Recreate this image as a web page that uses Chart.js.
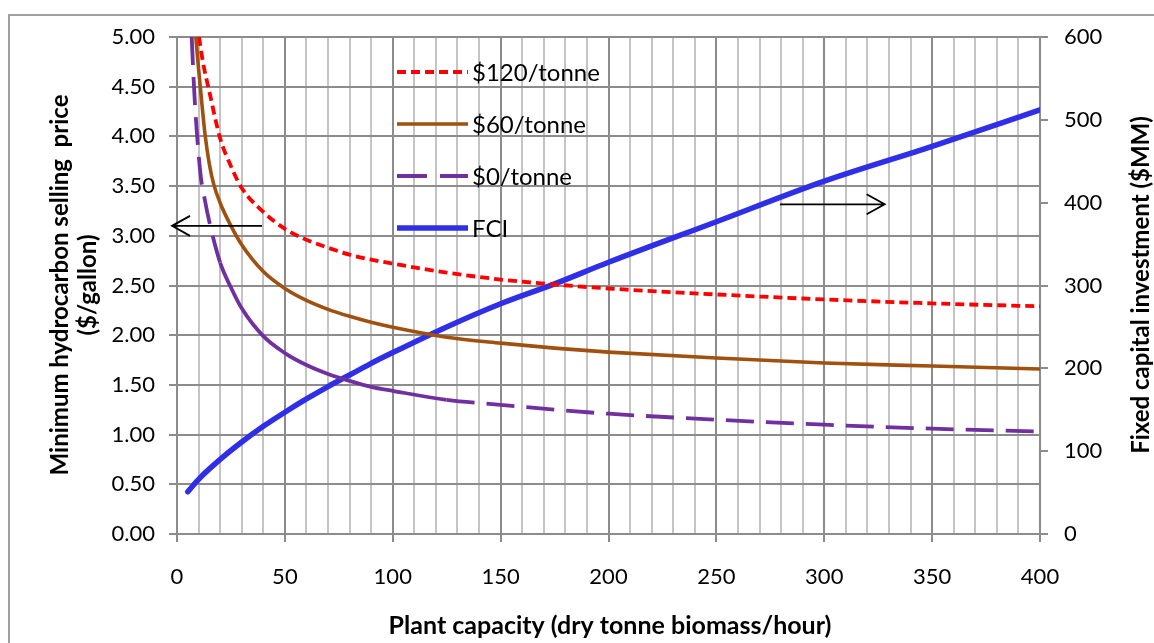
<!DOCTYPE html>
<html>
<head>
<meta charset="utf-8">
<script src="https://cdn.jsdelivr.net/npm/chart.js@4.4.1/dist/chart.umd.min.js"></script>
<style>
  html, body { margin: 0; padding: 0; background: #ffffff; }
  #wrap { position: relative; width: 1154px; height: 643px; }
  canvas { display: block; }
</style>
</head>
<body>
<div id="wrap"><canvas id="chart" width="1154" height="643"></canvas></div>
<script>
// Plant capacity (dry tonne biomass / hour) and minimum selling price ($/gallon)
const capacity120 = [10.2, 12, 15, 20, 25, 30, 40, 50, 60, 70, 80, 90, 100, 125, 150, 175, 200, 250, 300, 350, 400];
const price120    = [5.00, 4.75, 4.45, 3.98, 3.70, 3.48, 3.24, 3.07, 2.96, 2.88, 2.81, 2.76, 2.72, 2.63, 2.56, 2.51, 2.47, 2.41, 2.36, 2.32, 2.29];

const capacity60  = [8.7, 10, 11, 13, 15, 17, 20, 25, 30, 40, 50, 60, 70, 80, 90, 100, 125, 150, 175, 200, 250, 300, 350, 400];
const price60     = [5.00, 4.68, 4.45, 4.02, 3.72, 3.52, 3.33, 3.10, 2.91, 2.64, 2.47, 2.35, 2.26, 2.19, 2.13, 2.08, 1.98, 1.92, 1.87, 1.83, 1.77, 1.72, 1.69, 1.66];

const capacity0   = [6.8, 8, 9, 11, 13, 15, 20, 25, 30, 40, 50, 60, 70, 80, 90, 100, 125, 150, 175, 200, 250, 300, 350, 400];
const price0      = [5.00, 4.45, 4.10, 3.60, 3.35, 3.14, 2.73, 2.48, 2.27, 1.99, 1.82, 1.70, 1.61, 1.54, 1.48, 1.44, 1.35, 1.30, 1.25, 1.21, 1.15, 1.10, 1.06, 1.03];

// Fixed capital investment ($MM)
const capacityFCI = [5, 10, 20, 30, 40, 50, 60, 70, 80, 90, 100, 125, 150, 175, 200, 250, 300, 350, 400];
const fci         = [51, 66, 90, 111, 130, 147, 163, 178, 192, 206, 219, 250, 278, 302, 328, 377, 426, 468, 512];

const seriesNames = ['$120/tonne', '$60/tonne', '$0/tonne', 'FCI'];

// Arrows pointing to the axis each group of curves is read against: [x0, y0, x1, y1, axis]
const arrowLeft  = [39.4, 3.10, -2.3, 3.10, 'y'];
const arrowRight = [279.5, 398, 328, 398, 'y2'];

const pts = (xs, ys) => xs.map((x, i) => ({ x: x, y: ys[i] }));

const FONT = 'Lato, "Open Sans", sans-serif';
const GRID_MAJOR = '#8c8c8c';
const GRID_MINOR = '#c4c4c4';

const frame = {
  id: 'frame',
  beforeDraw(chart) {
    const ctx = chart.ctx;
    ctx.save();
    ctx.fillStyle = '#ffffff';
    ctx.fillRect(0, 0, chart.width, chart.height);
    ctx.strokeStyle = '#a0a0a0';
    ctx.lineWidth = 2;
    ctx.beginPath();
    ctx.moveTo(9, chart.height);
    ctx.lineTo(9, 15);
    ctx.lineTo(chart.width, 15);
    ctx.stroke();
    ctx.restore();
  }
};

const extras = {
  id: 'extras',
  afterDatasetsDraw(chart) {
    const ctx = chart.ctx;
    const xs = chart.scales.x;
    ctx.save();

    // arrows
    [arrowLeft, arrowRight].forEach(a => {
      const ys = chart.scales[a[4]];
      const x0 = xs.getPixelForValue(a[0]), y0 = ys.getPixelForValue(a[1]);
      const x1 = xs.getPixelForValue(a[2]), y1 = ys.getPixelForValue(a[3]);
      const dir = Math.sign(x1 - x0);
      ctx.strokeStyle = '#000000';
      ctx.lineWidth = 1.8;
      ctx.beginPath();
      ctx.moveTo(x0, y0);
      ctx.lineTo(x1, y1);
      ctx.moveTo(x1 - dir * 18, y1 - 10);
      ctx.lineTo(x1, y1);
      ctx.lineTo(x1 - dir * 18, y1 + 10);
      ctx.stroke();
    });

    // legend inside the plot area
    const rows = [72, 124, 176, 228];
    chart.data.datasets.forEach((ds, i) => {
      const y = rows[i];
      ctx.strokeStyle = ds.borderColor;
      ctx.lineWidth = ds.borderWidth;
      ctx.lineCap = 'butt';
      ctx.setLineDash(ds.legendDash || []);
      ctx.beginPath();
      ctx.moveTo(397, y);
      ctx.lineTo(468, y);
      ctx.stroke();
      ctx.setLineDash([]);
      ctx.fillStyle = '#000000';
      ctx.font = '24px ' + FONT;
      ctx.textAlign = 'left';
      ctx.textBaseline = 'middle';
      ctx.fillText(ds.label, 472, y + 1);
    });

    // axis titles
    ctx.fillStyle = '#000000';
    ctx.font = 'bold 25px ' + FONT;
    ctx.textAlign = 'center';
    ctx.textBaseline = 'middle';
    ctx.fillText('Plant capacity (dry tonne biomass/hour)', 610, 626);

    ctx.font = 'bold 24px ' + FONT;
    ctx.save();
    ctx.translate(60, 285);
    ctx.rotate(-Math.PI / 2);
    ctx.fillText('Minimum hydrocarbon selling  price', 0, 0);
    ctx.fillText('($/gallon)', 0, 28);
    ctx.restore();

    ctx.save();
    ctx.translate(1141, 285);
    ctx.rotate(-Math.PI / 2);
    ctx.fillText('Fixed capital investment ($MM)', 0, 0);
    ctx.restore();

    ctx.restore();
  }
};

const purpleDash = [28, 12];

new Chart(document.getElementById('chart'), {
  type: 'line',
  data: {
    datasets: [
      {
        label: seriesNames[0],
        data: pts(capacity120, price120),
        yAxisID: 'y',
        borderColor: '#ff0000',
        borderWidth: 3.8,
        borderDash: [9, 5],
        legendDash: [9, 5],
        pointRadius: 0,
        cubicInterpolationMode: 'monotone',
        fill: false
      },
      {
        label: seriesNames[1],
        data: pts(capacity60, price60),
        yAxisID: 'y',
        borderColor: '#a0500f',
        borderWidth: 3.6,
        pointRadius: 0,
        cubicInterpolationMode: 'monotone',
        fill: false
      },
      {
        label: seriesNames[2],
        data: pts(capacity0, price0),
        yAxisID: 'y',
        borderColor: '#7030a0',
        borderWidth: 3.8,
        borderDash: purpleDash,
        legendDash: [30, 13],
        segment: {
          borderDash: c => (c.p0.parsed.x >= 20 && c.p1.parsed.x <= 125) ? [] : purpleDash
        },
        pointRadius: 0,
        cubicInterpolationMode: 'monotone',
        fill: false
      },
      {
        label: seriesNames[3],
        data: pts(capacityFCI, fci),
        yAxisID: 'y2',
        borderColor: '#2f2fe8',
        borderWidth: 5.5,
        borderCapStyle: 'round',
        pointRadius: 0,
        cubicInterpolationMode: 'monotone',
        fill: false
      }
    ]
  },
  options: {
    responsive: false,
    animation: false,
    devicePixelRatio: 1,
    layout: { padding: { top: 37, left: 0, right: 0, bottom: 0 } },
    plugins: {
      legend: { display: false },
      tooltip: { enabled: false }
    },
    scales: {
      x: {
        type: 'linear',
        min: 0,
        max: 400,
        afterFit: s => { s.height = 643 - 37 - 497; },
        ticks: {
          stepSize: 10,
          autoSkip: false,
          maxRotation: 0,
          padding: 22,
          color: '#000000',
          font: { family: FONT, size: 22 },
          callback: v => (v % 50 === 0 ? String(v) : '')
        },
        grid: {
          color: c => (c.tick && c.tick.value % 50 === 0 ? GRID_MAJOR : GRID_MINOR),
          tickColor: c => (c.tick && c.tick.value % 50 === 0 ? GRID_MAJOR : 'rgba(0,0,0,0)'),
          lineWidth: 2,
          tickLength: 8
        },
        border: { color: GRID_MAJOR, width: 2 }
      },
      y: {
        position: 'left',
        min: 0,
        max: 5,
        afterFit: s => { s.width = 177; },
        ticks: {
          stepSize: 0.5,
          padding: 14,
          color: '#000000',
          font: { family: FONT, size: 22 },
          callback: v => Number(v).toFixed(2)
        },
        grid: { color: GRID_MAJOR, lineWidth: 2, tickLength: 8 },
        border: { color: GRID_MAJOR, width: 2 }
      },
      y2: {
        position: 'right',
        min: 0,
        max: 600,
        afterFit: s => { s.width = 1154 - 1040; },
        ticks: {
          stepSize: 100,
          padding: 16,
          color: '#000000',
          font: { family: FONT, size: 22 }
        },
        grid: { drawOnChartArea: false, color: GRID_MAJOR, lineWidth: 2, tickLength: 8 },
        border: { color: GRID_MAJOR, width: 2 }
      }
    }
  },
  plugins: [frame, extras]
});
</script>
</body>
</html>
